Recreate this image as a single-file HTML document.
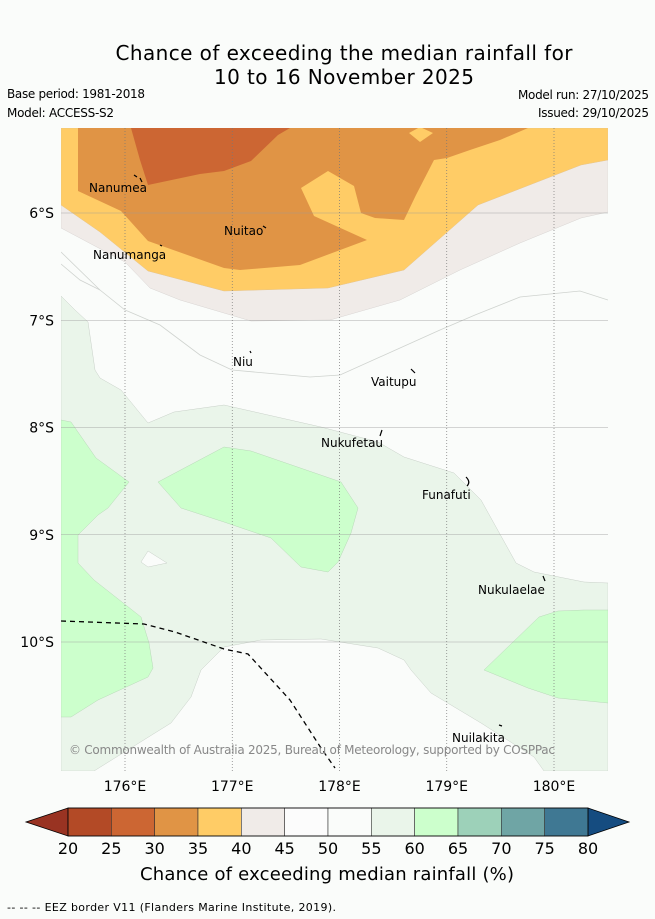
<!DOCTYPE html>
<html><head><meta charset="utf-8"><style>
html,body{margin:0;padding:0;background:#fafcfa;}
svg{display:block;font-family:"DejaVu Sans","Liberation Sans",sans-serif;}
</style></head><body>
<svg id="fig" width="655" height="919" viewBox="0 0 655 919">
<rect x="0" y="0" width="655" height="919" fill="#fafcfa"/>
<text x="344" y="60" font-size="20" text-anchor="middle" textLength="457" fill="#000">Chance of exceeding the median rainfall for</text>
<text x="344" y="84" font-size="20" text-anchor="middle" textLength="260" fill="#000">10 to 16 November 2025</text>
<text x="7" y="98" font-size="12" textLength="138">Base period: 1981-2018</text>
<text x="7" y="117" font-size="12" textLength="107">Model: ACCESS-S2</text>
<text x="649" y="99" font-size="12" text-anchor="end" textLength="131">Model run: 27/10/2025</text>
<text x="649" y="117" font-size="12" text-anchor="end" textLength="111">Issued: 29/10/2025</text>
<defs><clipPath id="mapclip"><rect x="61" y="128" width="547" height="643"/></clipPath></defs>
<g id="map" clip-path="url(#mapclip)">
<rect x="61" y="128" width="547" height="643" fill="#fafcfa"/>
<polygon fill="#f0ebe8" stroke="#d8d4d2" stroke-width="0.5" points="61,128 608,128 608,212 581,218 520,243 460,270 400,300 330,320 251,321 180,300 150,288 125,262 61,228"/>
<polygon fill="#ffcc66" stroke="#e6c48a" stroke-width="0.5" points="61,128 608,128 608,160 581,165 478,205 404,270 328,288 224,291 148,271 100,232 61,205"/>
<polygon fill="#e09445" points="78,128 528,128 500,140 470,150 447,158 434,160 416,195 404,220 375,218 361,213 354,186 328,171 301,188 314,216 367,240 300,265 240,270 224,268 148,241 121,211 78,191"/>
<polygon fill="#ffcc66" points="409,133 420,127 433,133 420,142"/>
<polygon fill="#cc6633" points="131,128 290,128 278,135 251,161 224,171 200,174 148,185 140,160"/>
<path fill="none" stroke="#cfd3cf" stroke-width="0.8" d="M61,252 L100,290 L125,310 L160,325 L200,355 L232,370 L310,377 L340,375 L440,330 L475,315 L520,297 L580,291 L608,300"/>
<path fill="none" stroke="#cfd3cf" stroke-width="0.8" d="M61,264 L80,280 L100,290"/>
<polygon fill="#eaf5ea" stroke="#c8d0c8" stroke-width="0.5" points="61,296 75,310 88,322 95,370 100,378 121,390 148,423 174,412 224,405 321,427 378,442 404,457 454,473 481,500 516,563 534,572 584,582 608,583 608,771 544,771 534,757 481,723 431,693 411,670 404,660 378,648 321,639 261,640 224,647 201,670 191,697 171,723 94,771 61,771"/>
<polygon fill="#fafcfa" stroke="#c8d0c8" stroke-width="0.5" points="148,551 167,563 148,567 141,562"/>
<polygon fill="#ccffcc" stroke="#b8d8b8" stroke-width="0.5" points="61,420 71,422 96,458 129,482 108,508 98,515 78,535 78,563 94,580 141,617 149,643 153,668 148,677 98,700 71,717 61,717"/>
<polygon fill="#ccffcc" stroke="#b8d8b8" stroke-width="0.5" points="158,482 224,447 251,451 341,482 358,508 351,533 338,562 328,572 301,567 271,538 224,522 181,508"/>
<polygon fill="#ccffcc" stroke="#b8d8b8" stroke-width="0.5" points="484,670 539,617 558,611 584,610 608,610 608,703 558,698 528,688"/>
<g id="grid"></g>
<path fill="none" stroke="#000" stroke-width="1.3" stroke-dasharray="5,4" d="M61,621 L144,624 L175,632 L224,649 L248,654 L290,700 L321,748 L335,768"/>
<g stroke="#000" stroke-width="1.2" fill="none">
<path d="M134,175 L137,177 M140,178 L142,182"/>
<path d="M263,226 L266,228"/>
<path d="M160,245 L162,246"/>
<path d="M250,351 L251,353"/>
<path d="M411,369 L415,373"/>
<path d="M380,436 L382,430"/>
<path d="M466,477 Q471,482 467,486"/>
<path d="M543,576 L545,581"/>
<path d="M499,725 L502,726"/>
</g>
<g font-size="12" fill="#000">
<text x="89" y="192">Nanumea</text>
<text x="224" y="235">Nuitao</text>
<text x="93" y="259">Nanumanga</text>
<text x="233" y="366">Niu</text>
<text x="371" y="386">Vaitupu</text>
<text x="321" y="447">Nukufetau</text>
<text x="422" y="499">Funafuti</text>
<text x="478" y="594">Nukulaelae</text>
<text x="452" y="742">Nuilakita</text>
</g>
<text x="69" y="754" font-size="12" fill="#888" textLength="486">© Commonwealth of Australia 2025, Bureau of Meteorology, supported by COSPPac</text>
</g>
<g id="axes"></g>
<g id="cbar"></g>
<text x="327" y="880" font-size="18" text-anchor="middle" textLength="374">Chance of exceeding median rainfall (%)</text>
<text x="7" y="911" font-size="11" textLength="329">-- -- -- EEZ border V11 (Flanders Marine Institute, 2019).</text>
</svg>
<script>
var NS="http://www.w3.org/2000/svg";
var lonTicks=[176,177,178,179,180];
var latTicks=[6,7,8,9,10];
var cbarBounds=[20,25,30,35,40,45,50,55,60,65,70,75,80];
var cbarColors=["#b34a26","#cc6633","#e09445","#ffcc66","#f0ebe8","#fcfcfc","#fafcfa","#eaf5ea","#ccffcc","#9dd1b9","#6fa5a5","#3f7893"];
var cbarUnder="#993322";
var cbarOver="#154c80";
function xLon(l){return 125+(l-176)*107.25;}
function yLat(l){return 213+(l-6)*107.25;}
function xC(v){return 68+(v-20)*(520/60);}
function mk(tag,attrs,parent){var e=document.createElementNS(NS,tag);for(var k in attrs)e.setAttribute(k,attrs[k]);parent.appendChild(e);return e;}
var grid=document.getElementById('grid'),axes=document.getElementById('axes'),cb=document.getElementById('cbar');
latTicks.forEach(function(l){
 var y=yLat(l);
 var ln=mk('line',{x1:61,x2:608,y1:y,y2:y,stroke:'#999','stroke-width':0.6,'stroke-opacity':0.8},grid);
 
 
 var t=mk('text',{x:54,y:y+5,'font-size':14,'text-anchor':'end'},axes);
 t.textContent=l+'°S';
 
 
});
lonTicks.forEach(function(l){
 var x=xLon(l);
 var ln=mk('line',{x1:x,x2:x,y1:128,y2:771,stroke:'#777','stroke-width':0.7,'stroke-dasharray':'1,2'},grid);
 
 
 var t=mk('text',{x:x,y:791,'font-size':14,'text-anchor':'middle'},axes);
 t.textContent=l+'°E';
 
 
});
var y0=808,y1=836,ym=822;
var under=mk('polygon',{points:'26,'+ym+' '+xC(20)+','+y0+' '+xC(20)+','+y1,fill:cbarUnder,stroke:'#000','stroke-width':0.8},cb);


var over=mk('polygon',{points:'629,'+ym+' '+xC(80)+','+y0+' '+xC(80)+','+y1,fill:cbarOver,stroke:'#000','stroke-width':0.8},cb);


for(var i=0;i<cbarColors.length;i++){
 var r=mk('rect',{x:xC(cbarBounds[i]),y:y0,width:xC(cbarBounds[i+1])-xC(cbarBounds[i]),height:y1-y0,fill:cbarColors[i],stroke:'#333','stroke-width':0.6},cb);
 
 
}
var fr=mk('rect',{x:xC(20),y:y0,width:xC(80)-xC(20),height:y1-y0,fill:'none',stroke:'#000','stroke-width':0.8},cb);


cbarBounds.forEach(function(v){
 var t=mk('text',{x:xC(v),y:854,'font-size':16,'text-anchor':'middle'},cb);
 t.textContent=v;
 
 
});
</script>
</body></html>
